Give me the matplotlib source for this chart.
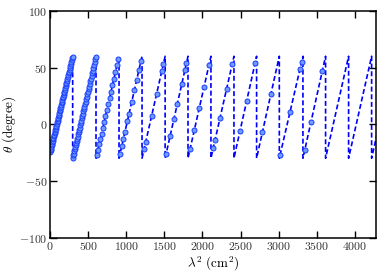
import numpy as np
import matplotlib as mpl
mpl.use('Agg')
import matplotlib.pyplot as plt
from matplotlib.ticker import FuncFormatter

# model line: sawtooth vertices (lambda^2 in cm^2, angle in degree)
line_l2 = [0, 297, 297, 603, 603, 905, 905, 1207, 1207, 1510, 1510, 1810,
           1810, 2111, 2111, 2413, 2413, 2710, 2710, 3008, 3008, 3318,
           3318, 3615, 3615, 3917, 3917, 4219, 4219, 4400]
line_theta = [-25, 60, -30, 60, -30, 60, -30, 60, -30, 60, -30, 60,
              -30, 60, -30, 60, -30, 60, -30, 60, -30, 60,
              -30, 60, -30, 60, -30, 60, -30, 24]

# measured points
data_l2 = [2, 7, 12, 17, 22, 26, 31, 36, 41, 45, 50, 55, 60, 64, 69, 74, 79,
           83, 88, 93, 98, 102, 107, 112, 117, 122, 127, 132, 137, 142, 147,
           152, 157, 162, 167, 172, 178, 183, 188, 193, 199, 204, 210, 215,
           221, 226, 232, 238, 244, 250, 256, 262, 268, 274, 280, 286, 292, 296,
           299, 305, 311, 318, 324, 330, 336, 343, 349, 356, 362, 369, 375, 382,
           389, 396, 403, 410, 417, 424, 431, 438, 445, 452, 460, 467, 475, 482,
           490, 497, 505, 512, 520, 528, 536, 544, 552, 560, 568, 577, 585, 594,
           601,
           612, 628, 644, 660, 676, 693, 710, 727, 745, 763, 781, 800, 819,
           838, 858, 878, 898,
           918, 940, 962, 984, 1014, 1036, 1071, 1106, 1137, 1167, 1193,
           1233, 1255, 1333, 1399, 1465, 1486,
           1521, 1574, 1626, 1670, 1727, 1770, 1790,
           1836, 1893, 1958, 2020, 2085,
           2142, 2164, 2230, 2317, 2391,
           2492, 2580, 2689,
           2785, 2898,
           3018, 3148, 3279, 3301,
           3340, 3423, 3571]
data_theta = [-24.4, -23.0, -21.6, -20.1, -18.7, -17.6, -16.1, -14.7, -13.3,
              -12.1, -10.7, -9.3, -7.8, -6.7, -5.3, -3.8, -2.4, -1.3, 0.2, 1.6,
              3.0, 4.2, 5.6, 7.0, 8.5, 9.9, 11.3, 12.8, 14.2, 15.6, 17.0, 18.5,
              19.9, 21.3, 22.8, 24.2, 25.9, 27.3, 28.8, 30.2, 31.9, 33.3, 35.1,
              36.5, 38.2, 39.6, 41.4, 43.1, 44.8, 46.5, 48.2, 49.9, 51.6, 53.4,
              55.1, 56.8, 58.5, 59.7,
              -29.4, -27.6, -25.9, -23.8, -22.1, -20.3, -18.5, -16.5, -14.7,
              -12.7, -10.9, -8.8, -7.1, -5.0, -3.0, -0.9, 1.2, 3.2, 5.3, 7.3,
              9.4, 11.5, 13.5, 15.6, 17.9, 20.0, 22.3, 24.4, 26.7, 28.8, 31.2,
              33.2, 35.6, 37.9, 40.3, 42.6, 45.0, 47.3, 49.7, 52.3, 54.7, 57.3,
              59.4,
              -27.3, -22.5, -17.8, -13.0, -8.2, -3.2, 1.9, 6.9, 12.3, 17.7,
              23.0, 28.7, 34.4, 40.0, 46.0, 51.9, 57.9,
              -26.1, -19.6, -13.0, -6.5, 2.5, 9.0, 19.5, 29.9, 39.1, 48.1, 55.8,
              -22.3, -15.7, 7.4, 27.0, 46.6, 52.9,
              -26.7, -10.8, 4.8, 18.0, 35.1, 48.0, 54.0,
              -22.2, -5.2, 14.3, 32.8, 52.2,
              -20.8, -14.2, 5.5, 31.4, 53.4,
              -6.1, 20.6, 53.6,
              -7.3, 26.8,
              -27.1, 10.6, 48.6, 55.0,
              -23.0, 1.8, 46.7]

plt.rcParams['mathtext.fontset'] = 'cm'
plt.rcParams['font.family'] = 'serif'
plt.rcParams['font.serif'] = ['DejaVu Serif']

fig = plt.figure(figsize=(3.82, 2.73), dpi=100)
ax = fig.add_axes([0.131, 0.130, 0.853, 0.830])

ax.plot(line_l2, line_theta, 'b--', linewidth=1.2, dashes=(3, 1.6))
ax.plot(data_l2, data_theta, 'o', markersize=3.6, markerfacecolor='#6f9bff',
        markeredgecolor='#1a3cff', markeredgewidth=0.7, linestyle='none')

ax.set_xlim(0, 4275)
ax.set_ylim(-100, 100)
ax.set_xticks(np.arange(0, 4001, 500))
ax.set_yticks([-100, -50, 0, 50, 100])
fmt = FuncFormatter(lambda v, p: r'$%d$' % v)
ax.xaxis.set_major_formatter(fmt)
ax.yaxis.set_major_formatter(fmt)
ax.tick_params(direction='in', top=True, right=True, length=5, width=1,
               labelsize=8.5, pad=2, labelcolor='#333333')
for s in ax.spines.values():
    s.set_linewidth(1.1)

ax.set_xlabel(r'$\lambda^2\ \mathrm{(cm^2)}$', fontsize=9.5, labelpad=1)
ax.set_ylabel(r'$\theta\ \mathrm{(degree)}$', fontsize=9.5)
ax.yaxis.set_label_coords(-0.098, 0.5)

fig.savefig('out.png', dpi=100)
